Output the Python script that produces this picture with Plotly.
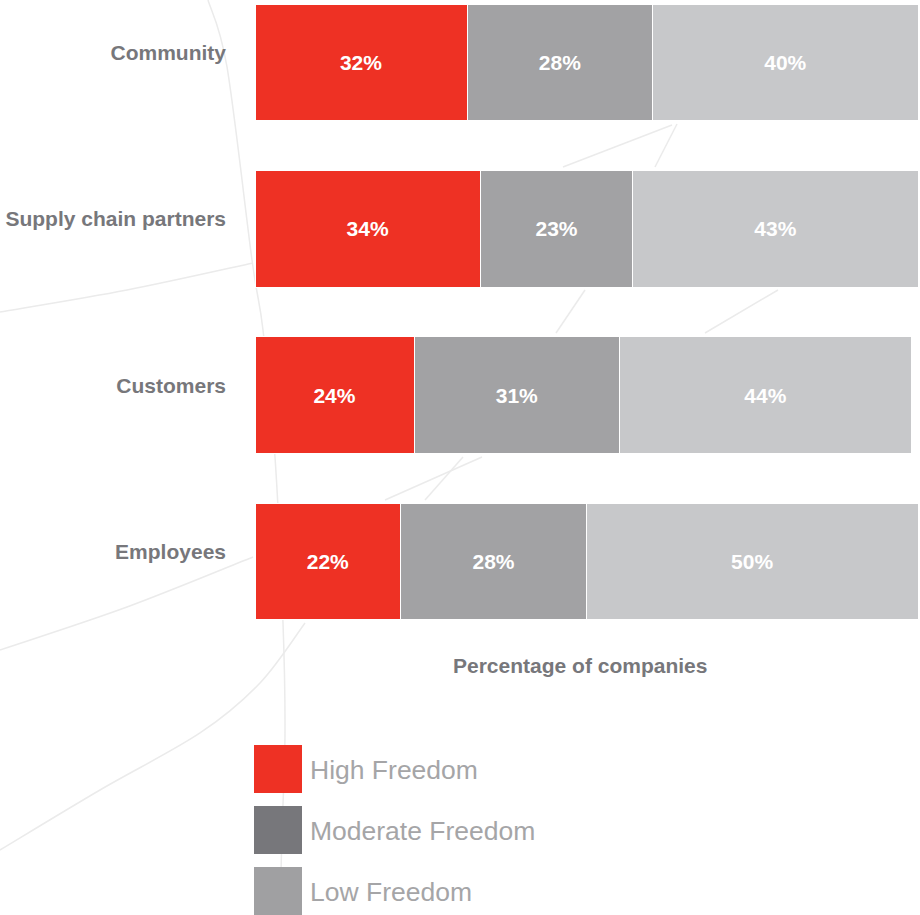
import plotly.graph_objects as go

# Data
categories = ["Community", "Supply chain partners", "Customers", "Employees"]
high = [32, 34, 24, 22]
moderate = [28, 23, 31, 28]
low = [40, 43, 44, 50]

series_names = ["High Freedom", "Moderate Freedom", "Low Freedom"]
bar_colors = ["#ee3124", "#a2a2a4", "#c7c8ca"]
legend_colors = ["#ee3124", "#77777b", "#a0a0a2"]

W, H = 920, 915
FONT = "Liberation Sans, Arial, sans-serif"


def px_x(x):
    return x / W


def px_y(y):
    return 1 - y / H


def smooth_path(pts):
    """Catmull-Rom curve through pixel points, as an SVG path in paper units."""
    p = [(px_x(x), px_y(y)) for x, y in pts]
    d = f"M {p[0][0]:.5f},{p[0][1]:.5f}"
    if len(p) == 2:
        return d + f" L {p[1][0]:.5f},{p[1][1]:.5f}"
    for i in range(len(p) - 1):
        p0 = p[i - 1] if i > 0 else p[i]
        p1, p2 = p[i], p[i + 1]
        p3 = p[i + 2] if i + 2 < len(p) else p2
        c1 = (p1[0] + (p2[0] - p0[0]) / 6, p1[1] + (p2[1] - p0[1]) / 6)
        c2 = (p2[0] - (p3[0] - p1[0]) / 6, p2[1] - (p3[1] - p1[1]) / 6)
        d += (f" C {c1[0]:.5f},{c1[1]:.5f} {c2[0]:.5f},{c2[1]:.5f}"
              f" {p2[0]:.5f},{p2[1]:.5f}")
    return d


fig = go.Figure()
for name, vals, color in zip(series_names, [high, moderate, low], bar_colors):
    fig.add_trace(go.Bar(
        name=name,
        y=categories,
        x=vals,
        orientation="h",
        marker=dict(color=color, line=dict(color="white", width=1)),
        width=0.703,
        text=[f"{v}%" for v in vals],
        textposition="inside",
        insidetextanchor="middle",
        textangle=0,
        constraintext="none",
        textfont=dict(family=FONT, size=21, color="white", weight="bold"),
        showlegend=False,
        hoverinfo="skip",
    ))

# Decorative background strokes (pixel coordinates)
strokes = [
    [(208, 0), (227, 67), (252, 260), (263, 330), (275, 457), (283, 623),
     (285, 733), (282, 833), (280, 915)],
    [(0, 312), (127, 290), (253, 263)],
    [(0, 650), (127, 607), (253, 557)],
    [(0, 850), (100, 790), (200, 733), (260, 683), (305, 623)],
    [(385, 500), (482, 457)],
    [(425, 500), (463, 457)],
    [(556, 333), (585, 290)],
    [(705, 333), (778, 290)],
    [(563, 167), (672, 125)],
    [(655, 167), (677, 124)],
]
shapes = []
for pts in strokes:
    shapes.append(dict(type="path", path=smooth_path(pts), xref="paper", yref="paper",
                       line=dict(color="#ebebeb", width=1.5), layer="below"))

# Legend swatches and labels
annotations = []
for i, (name, color) in enumerate(zip(series_names, legend_colors)):
    top = 745 + i * 61
    shapes.append(dict(type="rect", xref="paper", yref="paper",
                       x0=px_x(254), x1=px_x(302), y0=px_y(top + 48), y1=px_y(top),
                       fillcolor=color, line=dict(width=0), layer="above"))
    annotations.append(dict(text=name, xref="paper", yref="paper",
                            x=px_x(308), y=px_y(top + 25), xanchor="left", yanchor="middle",
                            showarrow=False,
                            font=dict(family=FONT, size=26.5, color="#a5a5a7")))

annotations.append(dict(text="<b>Percentage of companies</b>", xref="paper", yref="paper",
                        x=px_x(580), y=px_y(665), xanchor="center", yanchor="middle",
                        showarrow=False,
                        font=dict(family=FONT, size=21, color="#77777b")))

pitch = 166.33
top_val = -62.5 / pitch
bot_val = (640 - 62.5) / pitch

fig.update_layout(
    width=W, height=H,
    margin=dict(l=0, r=0, t=0, b=0),
    barmode="stack",
    bargap=0.3,
    plot_bgcolor="rgba(0,0,0,0)",
    paper_bgcolor="white",
    shapes=shapes,
    annotations=annotations,
    xaxis=dict(domain=[px_x(255), px_x(918)], range=[0, 100], showgrid=False,
               zeroline=False, showticklabels=False, ticks=""),
    yaxis=dict(domain=[px_y(640), 1], range=[bot_val, top_val], showgrid=False,
               zeroline=False, ticks="", ticklabelstandoff=28, ticklabelshift=10,
               automargin=False,
               tickfont=dict(family=FONT, size=21, color="#77777b", weight="bold")),
)

fig.write_html("out.html")
